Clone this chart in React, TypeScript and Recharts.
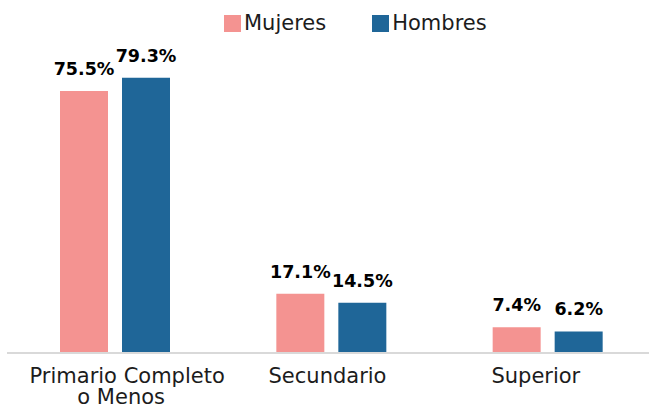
import { BarChart, Bar, XAxis, YAxis, Legend, LabelList } from "recharts";

const CATEGORIES = ["Primario Completo\no Menos", "Secundario", "Superior"];
const MUJERES = [75.5, 17.1, 7.4];
const HOMBRES = [79.3, 14.5, 6.2];

const PINK = "#F49391";
const BLUE = "#1F6698";
const FONT = "'DejaVu Sans', sans-serif";

// Excel places the category labels slightly off the bar groups
const TICK_NUDGE = [12, -4, -12];

const data = CATEGORIES.map((name, i) => ({
  name,
  Mujeres: MUJERES[i],
  Hombres: HOMBRES[i],
}));

const fmt = (v: any) => `${Number(v).toFixed(1)}%`;

const CategoryTick = ({ x, y, payload, index }: any) => {
  const lines = String(payload.value).split("\n");
  const cx = x + (TICK_NUDGE[index] ?? 0);
  return (
    <text y={y} textAnchor="middle" fill="#1c1c1c" fontSize={21} fontFamily={FONT}>
      {lines.map((l, i) => (
        <tspan key={i} x={cx - (i > 0 ? 6 : 0)} dy={i === 0 ? 22 : 21}>
          {l}
        </tspan>
      ))}
    </text>
  );
};

const LegendContent = () => (
  <div style={{ display: "flex", alignItems: "center", fontFamily: FONT, fontSize: 21, color: "#1c1c1c" }}>
    {[
      { name: "Mujeres", color: PINK },
      { name: "Hombres", color: BLUE },
    ].map((it, i) => (
      <div key={it.name} style={{ display: "flex", alignItems: "center", marginLeft: i > 0 ? 46 : 0 }}>
        <span style={{ display: "inline-block", width: 17, height: 17, background: it.color, marginRight: 3 }} />
        <span>{it.name}</span>
      </div>
    ))}
  </div>
);

const labelStyle = { fill: "#000", fontSize: 17.5, fontWeight: 700, fontFamily: FONT };

export default function App() {
  return (
    <div style={{ position: "absolute", left: 0, top: 0, width: 649, height: 405, overflow: "hidden", background: "#fff" }}>
      <BarChart
        width={656}
        height={405}
        data={data}
        margin={{ top: 6, right: 0, bottom: 0, left: 7 }}
        barSize={48}
        barGap={14}
      >
        <XAxis
          dataKey="name"
          height={52}
          axisLine={{ stroke: "#d9d9d9", strokeWidth: 2 }}
          tickLine={false}
          interval={0}
          tick={<CategoryTick />}
        />
        <YAxis hide domain={[0, 100]} />
        <Legend
          verticalAlign="middle"
          align="center"
          layout="horizontal"
          wrapperStyle={{ top: 11, left: 224, width: "auto" }}
          content={<LegendContent />}
        />
        <Bar dataKey="Mujeres" fill={PINK} isAnimationActive={false}>
          <LabelList dataKey="Mujeres" position="top" offset={16} formatter={fmt} {...labelStyle} />
        </Bar>
        <Bar dataKey="Hombres" fill={BLUE} isAnimationActive={false}>
          <LabelList dataKey="Hombres" position="top" offset={16} formatter={fmt} {...labelStyle} />
        </Bar>
      </BarChart>
    </div>
  );
}
